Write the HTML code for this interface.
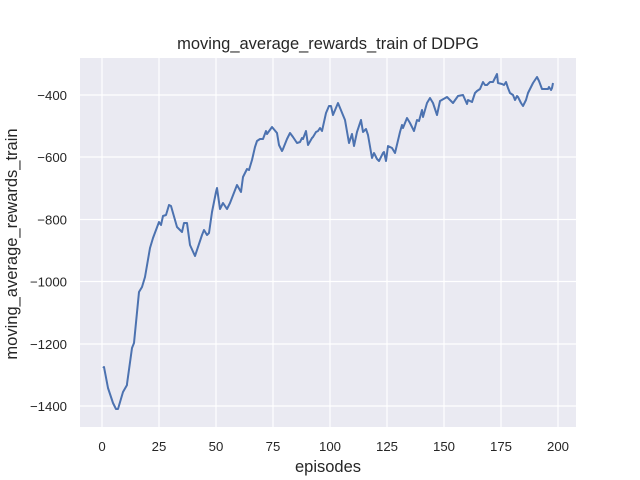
<!DOCTYPE html>
<html><head><meta charset="utf-8"><style>body{margin:0;background:#fff}svg{display:block}text{font-family:"Liberation Sans",sans-serif;fill:#262626}</style></head><body>
<svg width="640" height="480" xmlns="http://www.w3.org/2000/svg">
<rect x="80" y="58" width="496" height="369" fill="#eaeaf2"/>
<g stroke="#fff" stroke-width="1.2">
<line x1="102" y1="58" x2="102" y2="427"/><line x1="159" y1="58" x2="159" y2="427"/><line x1="216" y1="58" x2="216" y2="427"/><line x1="273" y1="58" x2="273" y2="427"/><line x1="330" y1="58" x2="330" y2="427"/><line x1="387" y1="58" x2="387" y2="427"/><line x1="444" y1="58" x2="444" y2="427"/><line x1="501" y1="58" x2="501" y2="427"/><line x1="558" y1="58" x2="558" y2="427"/>
<line x1="80" y1="95" x2="576" y2="95"/><line x1="80" y1="157" x2="576" y2="157"/><line x1="80" y1="219.5" x2="576" y2="219.5"/><line x1="80" y1="281.5" x2="576" y2="281.5"/><line x1="80" y1="344" x2="576" y2="344"/><line x1="80" y1="406" x2="576" y2="406"/>
</g>
<polyline fill="none" stroke="#4c72b0" stroke-width="2" stroke-linejoin="round" points="103,368 104,367 108,388 113,403 116,409 118,409 123,392 127,385 127,384 132,348 134,343 139,292 142,287 145,277 150,248 153,238 159,222 161,225 163,216 166,215 169,205 171,206 177,227 182,232 184,223 187,223 190,245 195,256 202,235 204,230 207,235 209,233 212,212 216,192 217,188 220,209 223,203 227,209 230,203 237,185 241,192 243,177 247,169 249,170 252,160 255,147 257,141 260,139 263,139 266,131 267,134 272,127 277,133 279,145 282,151 283,149 287,139 290,133 293,137 297,143 300,142 302,138 303,139 306,131 308,145 312,138 313,137 316,132 318,131 320,128 322,131 326,113 329,106 331,106 333,115 338,103 345,120 349,143 352,134 354,146 357,132 361,120 363,132 366,129 368,135 372,158 374,153 377,159 379,161 383,153 384,152 386,161 388,146 392,148 395,153 400,132 402,125 403,128 407,118 410,123 414,131 417,120 419,121 422,110 423,117 427,103 430,98 433,103 437,115 440,101 447,97 453,103 458,96 463,95 467,104 468,100 472,102 475,93 477,91 480,89 483,82 485,85 487,85 490,82 493,82 497,74 498,83 502,84 504,85 506,82 508,88 510,93 513,95 515,100 517,96 518,97 521,103 523,106 526,100 528,93 531,87 533,83 537,77 539,81 542,89 545,89 548,89 549,87 551,90 552,88 553,83"/>
<g font-size="13.2" text-anchor="middle">
<text x="102" y="451">0</text><text x="159" y="451">25</text><text x="216" y="451">50</text><text x="273" y="451">75</text><text x="330" y="451">100</text><text x="387" y="451">125</text><text x="444" y="451">150</text><text x="501" y="451">175</text><text x="558" y="451">200</text>
</g>
<g font-size="13.2" text-anchor="end">
<text x="67" y="100">−400</text><text x="67" y="162">−600</text><text x="67" y="224.5">−800</text><text x="67" y="286.5">−1000</text><text x="67" y="349">−1200</text><text x="67" y="411">−1400</text>
</g>
<text x="328" y="472" font-size="16.5" text-anchor="middle">episodes</text>
<text x="12" y="244" font-size="16.5" text-anchor="middle" transform="rotate(-90 12 244)" dy="5">moving_average_rewards_train</text>
<text x="328" y="49" font-size="16.5" text-anchor="middle">moving_average_rewards_train of DDPG</text>
</svg>
</body></html>
